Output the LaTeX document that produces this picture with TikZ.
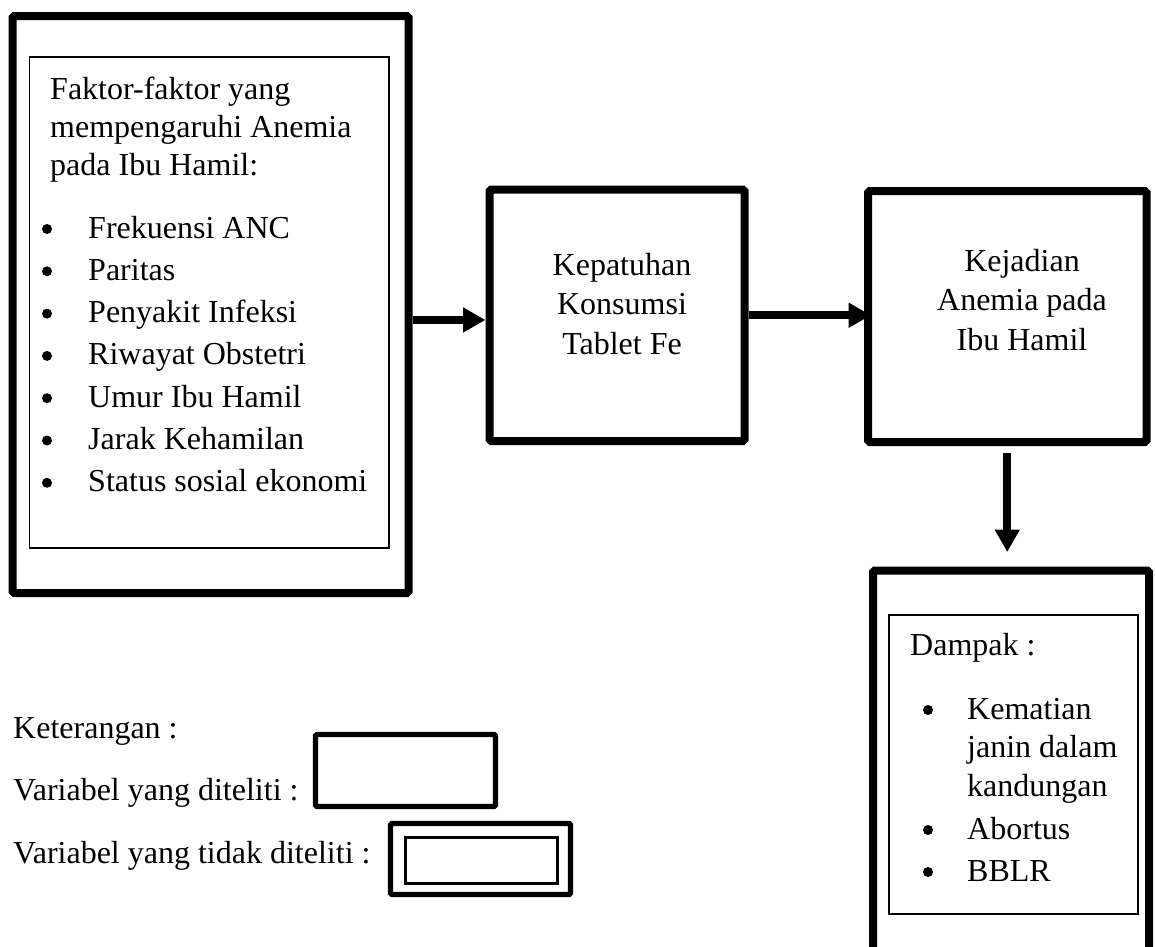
\documentclass[tikz,border=0pt]{standalone}
\usepackage{fontspec}
\setmainfont{Liberation Serif}
\usetikzlibrary{arrows.meta,fit}

\begin{document}
\begin{tikzpicture}[x=0.85pt,y=-0.85pt,every node/.style={inner sep=0pt},
    txt/.style={font=\fontsize{27.2}{32.7}\selectfont},
    lt/.style={txt,anchor=base west},
    ct/.style={txt,anchor=base},
    dot/.style={circle,fill,minimum size=8.5pt},
    bigbox/.style={draw,line width=6.8pt,rounded corners=1.5pt},
    thinbox/.style={draw,line width=1.1pt},
    keybox/.style={draw,line width=4.3pt,rounded corners=1pt},
    arr/.style={line width=6.8pt,-{Triangle[length=19pt,width=20pt]}}]
    \useasboundingbox (0,0) rectangle (1156,947);
    \clip (0,0) rectangle (1156,947);
    % boxes
    \node[bigbox,fit={(12.5,16) (408.5,593)}] (faktor) {};
    \node[thinbox,fit={(29.5,57) (389,548)}] (faktorin) {};
    \node[bigbox,fit={(489.5,189.5) (744.5,441)}] (kepatuhan) {};
    \node[bigbox,fit={(868,191) (1146.5,442)}] (kejadian) {};
    \node[bigbox,fit={(873,570.5) (1149,1000)}] (dampak) {};
    \node[thinbox,fit={(889,615) (1138,914)}] (dampakin) {};
    % factors
    \node[lt] (f1) at (50,99) {Faktor-faktor yang};
    \node[lt] (f2) at (50,137) {mempengaruhi Anemia};
    \node[lt] (f3) at (50,175) {pada Ibu Hamil:};
    \node[dot] (d1) at (47,229) {}; \node[lt] (i1) at (88,238) {Frekuensi ANC};
    \node[dot] (d2) at (47,271.3) {}; \node[lt] (i2) at (88,280.3) {Paritas};
    \node[dot] (d3) at (47,313.6) {}; \node[lt] (i3) at (88,322.6) {Penyakit Infeksi};
    \node[dot] (d4) at (47,355.9) {}; \node[lt] (i4) at (88,364.9) {Riwayat Obstetri};
    \node[dot] (d5) at (47,398.2) {}; \node[lt] (i5) at (88,407.2) {Umur Ibu Hamil};
    \node[dot] (d6) at (47,440.5) {}; \node[lt] (i6) at (88,449.5) {Jarak Kehamilan};
    \node[dot] (d7) at (47,482.8) {}; \node[lt] (i7) at (88,491.8) {Status sosial ekonomi};
    % middle and right
    \node[ct] (k1) at (622,275) {Kepatuhan};
    \node[ct] (k2) at (622,314.5) {Konsumsi};
    \node[ct] (k3) at (622,354) {Tablet Fe};
    \node[ct] (a1) at (1022,271) {Kejadian};
    \node[ct] (a2) at (1022,310.5) {Anemia pada};
    \node[ct] (a3) at (1022,350) {Ibu Hamil};
    % impact
    \node[lt] (p0) at (910,655) {Dampak :};
    \node[dot] (e1) at (928,710) {}; \node[lt] (p1) at (967,719) {Kematian};
    \node[lt] (p2) at (967,757) {janin dalam};
    \node[lt] (p3) at (967,796) {kandungan};
    \node[dot] (e2) at (928,830) {}; \node[lt] (p4) at (967,839) {Abortus};
    \node[dot] (e3) at (928,872) {}; \node[lt] (p5) at (967,881) {BBLR};
    % legend
    \node[lt] (ket) at (13,738) {Keterangan :};
    \node[lt] (v1) at (13,800) {Variabel yang diteliti :};
    \node[lt] (v2) at (13,863) {Variabel yang tidak diteliti :};
    \node[keybox,fit={(315.5,734.5) (495.5,806.5)}] (key1) {};
    \node[keybox,fit={(390.5,823.5) (570.5,894.5)}] (key2) {};
    \node[draw,line width=2.4pt,fit={(405.5,837.5) (557.5,883.5)}] (key2in) {};
    % arrows
    \coordinate (k0) at ([yshift=-4pt]kepatuhan.west);
    \draw[arr] (k0 -| faktor.east) -- (k0);
    \draw[arr,shorten >=-6pt] (kepatuhan.east) -- (kejadian.west |- kepatuhan.east);
    \draw[arr,shorten <=6pt,shorten >=12.3pt] (kejadian.south) -- (kejadian.south |- dampak.north);
\end{tikzpicture}
\end{document}
